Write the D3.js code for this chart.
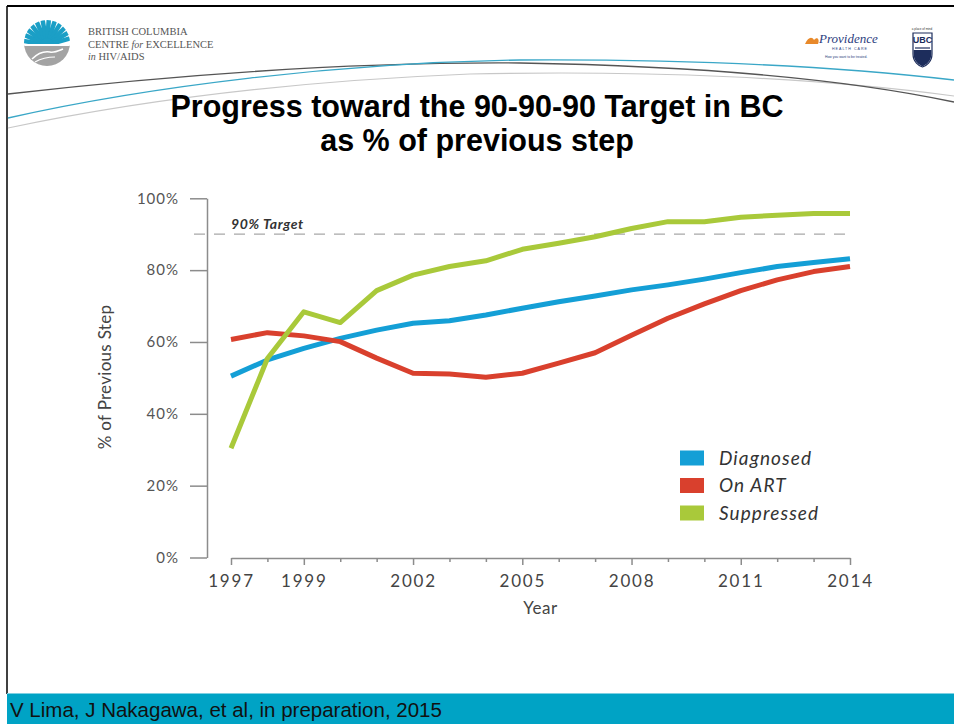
<!DOCTYPE html>
<html>
<head>
<meta charset="utf-8">
<script src="https://cdn.jsdelivr.net/npm/d3@7"></script>
<style>
  html, body { margin: 0; padding: 0; background: #fff; }
  svg { display: block; }
</style>
</head>
<body>
<svg id="slide" width="954" height="724"></svg>
<script>
// Share of people reaching each cascade step, as % of the previous step (BC, 1997-2014)
const years = [1997, 1998, 1999, 2000, 2001, 2002, 2003, 2004, 2005, 2006, 2007, 2008, 2009, 2010, 2011, 2012, 2013, 2014];
const diagnosed  = [50.5, 55.0, 58.2, 61.0, 63.3, 65.2, 65.9, 67.5, 69.4, 71.2, 72.8, 74.5, 75.9, 77.5, 79.3, 81.0, 82.1, 83.2];
const onArt      = [60.7, 62.6, 61.7, 60.1, 55.5, 51.3, 51.1, 50.2, 51.3, 54.1, 57.0, 61.9, 66.6, 70.6, 74.3, 77.3, 79.6, 81.0];
const suppressed = [30.4, 55.4, 68.4, 65.4, 74.3, 78.6, 81.0, 82.6, 85.8, 87.5, 89.3, 91.6, 93.5, 93.5, 94.7, 95.3, 95.8, 95.8];
const seriesNames = ["Diagnosed", "On ART", "Suppressed"];
const seriesColors = ["#149fd6", "#d9402d", "#a9c93a"];
const yTicks = [0, 20, 40, 60, 80, 100];
const xLabelYears = [1997, 1999, 2002, 2005, 2008, 2011, 2014];
const target = 90;

const svg = d3.select("#slide");

// ---------- slide chrome ----------
// frame
svg.append("line").attr("x1", 7).attr("y1", 6).attr("x2", 954).attr("y2", 6)
  .attr("stroke", "#000").attr("stroke-width", 2);
svg.append("line").attr("x1", 7).attr("y1", 6).attr("x2", 7).attr("y2", 694)
  .attr("stroke", "#000").attr("stroke-width", 1.5);

// sweeping header lines
svg.append("path").attr("d", "M8,128 C160,96 320,80 470,74 C650,70 820,78 954,96")
  .attr("fill", "none").attr("stroke", "#c8c8c8").attr("stroke-width", 1.2);
svg.append("path").attr("d", "M8,94 C200,72 380,62 520,63 C700,66 850,80 954,102")
  .attr("fill", "none").attr("stroke", "#555").attr("stroke-width", 1.3);
svg.append("path").attr("d", "M8,118 C150,86 340,63 520,60 C700,59 850,68 954,80")
  .attr("fill", "none").attr("stroke", "#3aa7c7").attr("stroke-width", 1.3);

// BC Centre for Excellence emblem
svg.append("clipPath").attr("id", "logoClip").append("circle").attr("cx", 47).attr("cy", 43).attr("r", 23);
const lg = svg.append("g").attr("clip-path", "url(#logoClip)");
lg.append("rect").attr("x", 23).attr("y", 19).attr("width", 48).attr("height", 48).attr("fill", "#fff");
d3.range(-80, 81, 14).forEach(a => {
  const r = a * Math.PI / 180;
  const cx = 47, cy = 45;
  lg.append("line")
    .attr("x1", cx + 6 * Math.sin(r)).attr("y1", cy - 6 * Math.cos(r))
    .attr("x2", cx + 27 * Math.sin(r)).attr("y2", cy - 27 * Math.cos(r))
    .attr("stroke", "#1b9fc6").attr("stroke-width", 4.5);
});
lg.append("circle").attr("cx", 47).attr("cy", 45).attr("r", 7).attr("fill", "#1b9fc6");
lg.append("rect").attr("x", 23).attr("y", 45).attr("width", 48).attr("height", 24).attr("fill", "#a3a3a3");
lg.append("rect").attr("x", 23).attr("y", 44).attr("width", 48).attr("height", 2).attr("fill", "#fff");
lg.append("path").attr("d", "M32,59 C38,53 44,51 50,52 C54,53 58,51 63,49")
  .attr("fill", "none").attr("stroke", "#fff").attr("stroke-width", 1.6);
lg.append("path").attr("d", "M35,62 C42,58 48,57 55,57")
  .attr("fill", "none").attr("stroke", "#fff").attr("stroke-width", 1.2);

const orgText = svg.append("g").attr("font-family", "Liberation Serif, serif")
  .attr("font-size", 10.5).attr("fill", "#555");
orgText.append("text").attr("x", 88).attr("y", 35).text("BRITISH COLUMBIA");
const l2 = orgText.append("text").attr("x", 88).attr("y", 48);
l2.append("tspan").text("CENTRE ");
l2.append("tspan").attr("font-style", "italic").attr("font-size", 10).text("for");
l2.append("tspan").text(" EXCELLENCE");
const l3 = orgText.append("text").attr("x", 88).attr("y", 60);
l3.append("tspan").attr("font-style", "italic").attr("font-size", 10).text("in");
l3.append("tspan").text(" HIV/AIDS");

// Providence mark
const prov = svg.append("g");
prov.append("path").attr("d", "M805,44 C808,37 812,36 814,40 C817,36 820,39 818,44 Z").attr("fill", "#e8892a");
prov.append("text").attr("x", 819).attr("y", 43).attr("font-family", "Liberation Serif, serif")
  .attr("font-style", "italic").attr("font-size", 13).attr("fill", "#2b3d7e").text("Providence");
prov.append("text").attr("x", 832).attr("y", 50).attr("font-family", "Liberation Sans, sans-serif")
  .attr("font-size", 3.6).attr("letter-spacing", 1).attr("fill", "#2b3d7e").text("HEALTH CARE");
prov.append("text").attr("x", 825).attr("y", 58).attr("font-family", "Liberation Sans, sans-serif")
  .attr("font-size", 3.4).attr("fill", "#2b3d7e").text("How you want to be treated.");

// UBC crest
const ubc = svg.append("g");
ubc.append("text").attr("x", 922).attr("y", 30).attr("text-anchor", "middle")
  .attr("font-family", "Liberation Sans, sans-serif").attr("font-size", 3).attr("fill", "#333").text("a place of mind");
ubc.append("path").attr("d", "M913,33 L932,33 L932,54 C932,62 926,66 922.5,67 C919,66 913,62 913,54 Z")
  .attr("fill", "#fff").attr("stroke", "#1d2d5c").attr("stroke-width", 1.2);
ubc.append("text").attr("x", 922.5).attr("y", 43).attr("text-anchor", "middle")
  .attr("font-family", "Liberation Sans, sans-serif").attr("font-weight", "bold").attr("font-size", 9)
  .attr("fill", "#1d2d5c").text("UBC");
ubc.append("path").attr("d", "M913.6,50 L931.4,50 L931.4,54 C931.4,61 926,65 922.5,66.3 C919,65 913.6,61 913.6,54 Z")
  .attr("fill", "#1d2d5c");
ubc.append("path").attr("d", "M915,48 L930,48").attr("stroke", "#1d2d5c").attr("stroke-width", 1.2);

// title
const title = svg.append("g").attr("font-family", "Liberation Sans, Arial, sans-serif")
  .attr("font-weight", "bold").attr("font-size", 30.5).attr("fill", "#000").attr("text-anchor", "middle");
title.append("text").attr("x", 477).attr("y", 117).text("Progress toward the 90-90-90 Target in BC");
title.append("text").attr("x", 477).attr("y", 151).text("as % of previous step");

// footer band
svg.append("rect").attr("x", 7).attr("y", 693).attr("width", 947).attr("height", 31).attr("fill", "#00a3c5");
svg.append("line").attr("x1", 7).attr("y1", 693.5).attr("x2", 954).attr("y2", 693.5)
  .attr("stroke", "#7fd0e2").attr("stroke-width", 1);
svg.append("text").attr("x", 10).attr("y", 717).attr("font-family", "Liberation Sans, Arial, sans-serif")
  .attr("font-size", 20.5).attr("fill", "#111").text("V Lima, J Nakagawa, et al, in preparation, 2015");

// ---------- chart ----------
const x = d3.scaleLinear().domain([1997, 2014]).range([231, 850]);
const y = d3.scaleLinear().domain([0, 100]).range([557.5, 198.3]);
const axisColor = "#8c8c8c";
const chartFont = "Lato, 'Open Sans', sans-serif";

// 90% target reference
svg.append("line")
  .attr("x1", 194).attr("x2", x(2014))
  .attr("y1", y(target)).attr("y2", y(target))
  .attr("stroke", "#a8a8a8").attr("stroke-width", 1.3).attr("stroke-dasharray", "11,9");
svg.append("text").attr("x", x(1997)).attr("y", y(target) - 5)
  .attr("font-family", chartFont).attr("font-weight", "bold").attr("font-style", "italic")
  .attr("font-size", 14).attr("letter-spacing", 0.6).attr("fill", "#333").text(`${target}% Target`);

// y axis
const yAxis = svg.append("g").attr("transform", "translate(207,0)")
  .call(d3.axisLeft(y).tickValues(yTicks).tickFormat(d => d + "%").tickSize(17).tickSizeOuter(0).tickPadding(11));
yAxis.selectAll("path, line").attr("stroke", axisColor).attr("stroke-width", 1.5);
yAxis.selectAll("text").attr("font-family", chartFont).attr("font-size", 15)
  .attr("letter-spacing", 1).attr("fill", "#555");

// x axis, a tick per year, labels on selected years
const xAxis = svg.append("g").attr("transform", "translate(0,558)")
  .call(d3.axisBottom(x).tickValues(years)
    .tickFormat(d => xLabelYears.includes(d) ? String(d) : "")
    .tickSize(7).tickSizeOuter(0).tickPadding(10));
xAxis.selectAll("path, line").attr("stroke", axisColor).attr("stroke-width", 1.5);
xAxis.selectAll(".tick line").attr("y2", d => xLabelYears.includes(d) ? 7 : 4);
xAxis.selectAll("text").attr("font-family", chartFont).attr("font-size", 17)
  .attr("letter-spacing", 1.8).attr("fill", "#444");

// axis titles
svg.append("text").attr("x", x(2005.5)).attr("y", 614).attr("text-anchor", "middle")
  .attr("font-family", chartFont).attr("font-size", 17).attr("letter-spacing", 0.5).attr("fill", "#444").text("Year");
svg.append("text").attr("transform", "translate(111,377) rotate(-90)").attr("text-anchor", "middle")
  .attr("font-family", chartFont).attr("font-size", 17).attr("letter-spacing", 0.3).attr("fill", "#444")
  .text("% of Previous Step");

// series lines
const series = [diagnosed, onArt, suppressed];
const line = d3.line().x((d, i) => x(years[i])).y(d => y(d));
series.forEach((vals, k) => {
  svg.append("path").datum(vals)
    .attr("fill", "none").attr("stroke", seriesColors[k]).attr("stroke-width", 5)
    .attr("stroke-linejoin", "round").attr("d", line);
});

// legend
const legend = svg.append("g").attr("transform", "translate(680,458)");
seriesNames.forEach((name, k) => {
  const g = legend.append("g").attr("transform", `translate(0,${k * 27.5})`);
  g.append("rect").attr("x", 0).attr("y", -7.5).attr("width", 24).attr("height", 15).attr("fill", seriesColors[k]);
  g.append("text").attr("x", 39).attr("y", 6.5).attr("font-family", chartFont)
    .attr("font-style", "italic").attr("font-size", 19).attr("letter-spacing", 1.1)
    .attr("fill", "#333").text(name);
});
</script>
</body>
</html>
